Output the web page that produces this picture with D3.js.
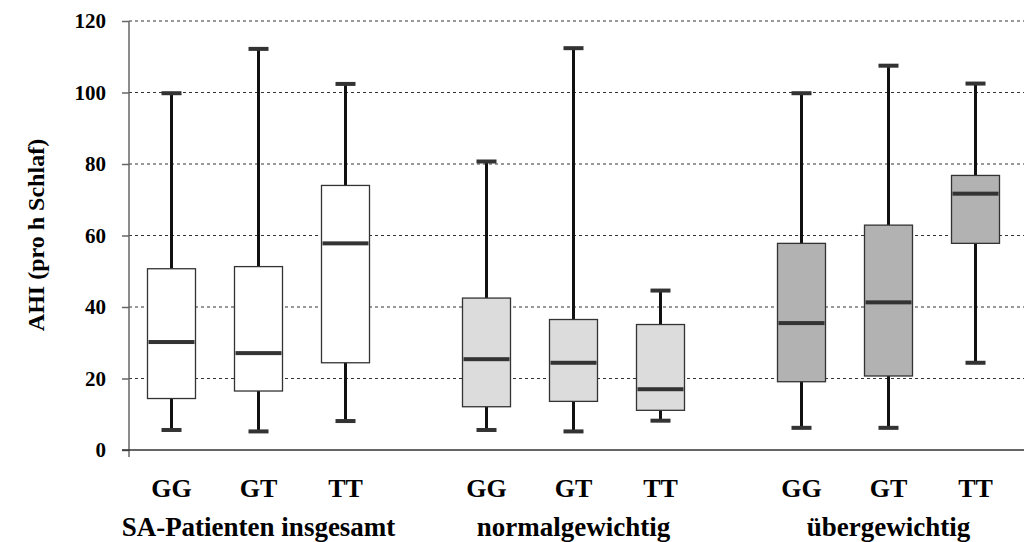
<!DOCTYPE html>
<html>
<head>
<meta charset="utf-8">
<script src="https://cdn.jsdelivr.net/npm/d3@7"></script>
<style>
  html, body { margin: 0; padding: 0; background: #fff; }
  svg { display: block; }
  svg text { font-family: "Times New Roman", Times, "Liberation Serif", "DejaVu Serif", serif !important; font-weight: bold; fill: #000; }
</style>
</head>
<body>
<svg id="chart" width="1024" height="542"></svg>
<script>
// AHI per genotype, for all sleep apnoea patients and split by body weight
const groups = ["SA-Patienten insgesamt", "normalgewichtig", "übergewichtig"];
const genotypes = ["GG", "GT", "TT"];
const groupFills = ["#ffffff", "#dcdcdc", "#b2b2b2"];

// five-number summaries per group, in genotype order GG, GT, TT
const whiskerLow  = [[5.6, 5.2, 8.1], [5.6, 5.2, 8.2], [6.2, 6.2, 24.4]];
const quartile1   = [[14.4, 16.5, 24.4], [12.1, 13.6, 11.1], [19.1, 20.7, 57.8]];
const medians     = [[30.2, 27.1, 57.8], [25.4, 24.4, 17.0], [35.5, 41.3, 71.7]];
const quartile3   = [[50.7, 51.3, 74.0], [42.5, 36.5, 35.1], [57.8, 62.9, 76.8]];
const whiskerHigh = [[99.8, 112.2, 102.4], [80.7, 112.4, 44.6], [99.8, 107.5, 102.5]];

const yTicks = [0, 20, 40, 60, 80, 100, 120];

const serif = "'Times New Roman', Times, 'Liberation Serif', 'DejaVu Serif', serif";
const svg = d3.select("#chart");
const plotLeft = 129, plotRight = 1024, plotTop = 21, plotBottom = 450;

const y = d3.scaleLinear().domain([0, 120]).range([plotBottom, plotTop]);
const xGroup = d3.scaleBand().domain(groups).range([101, 1046]).padding(0);
const xInner = d3.scalePoint().domain(genotypes).range([-87, 87]);
const boxW = 48, capW = 20;

// dashed horizontal grid
svg.append("g").selectAll("line")
  .data(yTicks.filter(t => t > 0))
  .join("line")
  .attr("x1", plotLeft).attr("x2", plotRight)
  .attr("y1", d => y(d)).attr("y2", d => y(d))
  .attr("stroke", "#333").attr("stroke-width", 1)
  .attr("stroke-dasharray", "3,3");

// y axis
const yAxis = svg.append("g")
  .attr("transform", `translate(${plotLeft},0)`)
  .call(d3.axisLeft(y).tickValues(yTicks).tickSize(7).tickPadding(16))
  .attr("font-family", serif);
yAxis.select(".domain").attr("stroke", "#666").attr("stroke-width", 1.5)
  .attr("d", `M0,${plotTop}V${plotBottom + 7}`);
yAxis.selectAll(".tick line").attr("stroke", "#666").attr("stroke-width", 1.5);
yAxis.selectAll(".tick text")
  .attr("font-size", 21).style("font-family", serif)
  .attr("font-weight", "bold").attr("fill", "#000");

// x axis line
svg.append("line")
  .attr("x1", plotLeft - 7).attr("x2", plotRight)
  .attr("y1", y(0)).attr("y2", y(0))
  .attr("stroke", "#333").attr("stroke-width", 1.5);

// flatten into one record per box
const boxes = [];
groups.forEach((g, gi) => {
  genotypes.forEach((gt, ti) => {
    boxes.push({
      group: g, genotype: gt, fill: groupFills[gi],
      lo: whiskerLow[gi][ti], q1: quartile1[gi][ti], med: medians[gi][ti],
      q3: quartile3[gi][ti], hi: whiskerHigh[gi][ti]
    });
  });
});
const cx = d => xGroup(d.group) + xGroup.bandwidth() / 2 + xInner(d.genotype);

const b = svg.append("g").selectAll("g").data(boxes).join("g");

// whiskers
b.append("line")
  .attr("x1", cx).attr("x2", cx)
  .attr("y1", d => y(d.hi)).attr("y2", d => y(d.q3))
  .attr("stroke", "#111").attr("stroke-width", 3);
b.append("line")
  .attr("x1", cx).attr("x2", cx)
  .attr("y1", d => y(d.q1)).attr("y2", d => y(d.lo))
  .attr("stroke", "#111").attr("stroke-width", 3);

// whisker caps
b.append("rect")
  .attr("x", d => cx(d) - capW / 2).attr("width", capW)
  .attr("y", d => y(d.hi) - 2).attr("height", 4)
  .attr("fill", "#333");
b.append("rect")
  .attr("x", d => cx(d) - capW / 2).attr("width", capW)
  .attr("y", d => y(d.lo) - 2).attr("height", 4)
  .attr("fill", "#333");

// boxes
b.append("rect")
  .attr("x", d => cx(d) - boxW / 2).attr("width", boxW)
  .attr("y", d => y(d.q3)).attr("height", d => y(d.q1) - y(d.q3))
  .attr("fill", d => d.fill)
  .attr("stroke", "#333").attr("stroke-width", 1.3);

// medians
b.append("rect")
  .attr("x", d => cx(d) - boxW / 2 + 1).attr("width", boxW - 2)
  .attr("y", d => y(d.med) - 2).attr("height", 4)
  .attr("fill", "#333");

// genotype labels
svg.append("g").selectAll("text").data(boxes).join("text")
  .attr("x", cx).attr("y", 497)
  .attr("text-anchor", "middle")
  .style("font-family", serif)
  .attr("font-size", 26)
  .text(d => d.genotype);

// group labels
svg.append("g").selectAll("text").data(groups).join("text")
  .attr("x", d => xGroup(d) + xGroup.bandwidth() / 2).attr("y", 536)
  .attr("text-anchor", "middle")
  .style("font-family", serif)
  .attr("font-size", 27)
  .text(d => d);

// y axis title
svg.append("text")
  .attr("transform", "translate(44,235) rotate(-90)")
  .attr("text-anchor", "middle")
  .style("font-family", serif)
  .attr("font-size", 24)
  .text("AHI (pro h Schlaf)");
</script>
</body>
</html>
